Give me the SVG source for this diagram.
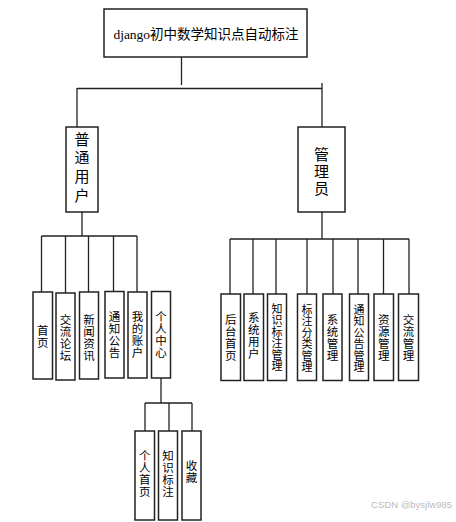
<svg xmlns="http://www.w3.org/2000/svg" width="456" height="522" viewBox="0 0 456 522">
<style>
.box{fill:#fff;stroke:#222;stroke-width:1.5}
.ln{fill:none;stroke:#222;stroke-width:1.3}
.t{font-family:"Liberation Serif","Noto Sans CJK SC",serif;fill:#000;text-anchor:middle;dominant-baseline:central}
.v{font-family:"Noto Sans CJK SC",sans-serif;font-size:11.5px;letter-spacing:0.5px;fill:#000;text-anchor:middle;writing-mode:vertical-rl}
.v6{font-family:"Noto Sans CJK SC",sans-serif;font-size:11px;letter-spacing:0.5px;fill:#000;text-anchor:middle;writing-mode:vertical-rl}
.vb{font-family:"Noto Sans CJK SC",sans-serif;font-size:15px;fill:#000;text-anchor:middle;writing-mode:vertical-rl}
</style>
<rect width="456" height="522" fill="#fff"/>
<g id="connectors">
<path class="ln" d="M181.5 57V85"/>
<path class="ln" d="M77 88.5H322M77 88V127M322 83V127"/>
<path class="ln" d="M82 212V236M41.5 236H137M41.5 236V292M65.5 236V293M88.5 236V292M113.5 236V292M137 236V292"/>
<path class="ln" d="M322 212V239M230 239H409M230 239V294M253 239V294M276 239V294M307 239V294M333 239V294M358 239V294M383.5 239V294M409 239V294"/>
<path class="ln" d="M161 378V403M145 403H192M145 403V431M169 403V431M192 403V431"/>
</g>
<g id="root"><rect class="box" x="104" y="9" width="203" height="48"/><text class="t" x="206" y="34" font-size="13.5">django初中数学知识点自动标注</text></g>
<g id="user"><rect class="box" x="66" y="127" width="32" height="85"/><text class="vb" x="82" y="169" letter-spacing="3.7px">普通用户</text></g>
<g id="admin"><rect class="box" x="298" y="127" width="47" height="85"/><text class="vb" x="321.5" y="172" letter-spacing="2px">管理员</text></g>
<g id="u1"><rect class="box" x="33" y="292" width="19.5" height="87"/><text class="v" x="42.7" y="336.5">首页</text></g>
<g id="u2"><rect class="box" x="56" y="293" width="19" height="87"/><text class="v" x="65.5" y="337.7">交流论坛</text></g>
<g id="u3"><rect class="box" x="79.5" y="292" width="19" height="87"/><text class="v" x="89" y="337.7">新闻资讯</text></g>
<g id="u4"><rect class="box" x="105" y="291.5" width="19" height="86.5"/><text class="v" x="114.5" y="335">通知公告</text></g>
<g id="u5"><rect class="box" x="128" y="292" width="19" height="86"/><text class="v" x="137.5" y="335">我的账户</text></g>
<g id="u6"><rect class="box" x="151.5" y="291.5" width="19" height="86.5"/><text class="v" x="161" y="335">个人中心</text></g>
<g id="a1"><rect class="box" x="221" y="294" width="19.5" height="86.5"/><text class="v" x="230.7" y="338">后台首页</text></g>
<g id="a2"><rect class="box" x="244" y="294" width="19.5" height="86.5"/><text class="v" x="253.7" y="336">系统用户</text></g>
<g id="a3"><rect class="box" x="267.5" y="294" width="19" height="86.5"/><text class="v6" x="277" y="337.7">知识标注管理</text></g>
<g id="a4"><rect class="box" x="297.5" y="294" width="19" height="86.5"/><text class="v6" x="307" y="338.7">标注分类管理</text></g>
<g id="a5"><rect class="box" x="323" y="294" width="19" height="86.5"/><text class="v" x="332.5" y="338">系统管理</text></g>
<g id="a6"><rect class="box" x="349.5" y="294" width="19" height="86.5"/><text class="v6" x="359" y="338.7">通知公告管理</text></g>
<g id="a7"><rect class="box" x="374" y="294" width="19.5" height="86.5"/><text class="v" x="383.7" y="338">资源管理</text></g>
<g id="a8"><rect class="box" x="398.5" y="294" width="20" height="86.5"/><text class="v" x="408.5" y="338">交流管理</text></g>
<g id="c1"><rect class="box" x="135" y="431" width="19.5" height="89"/><text class="v" x="144.7" y="474">个人首页</text></g>
<g id="c2"><rect class="box" x="158.5" y="431" width="19" height="89"/><text class="v" x="168" y="474">知识标注</text></g>
<g id="c3"><rect class="box" x="182" y="431" width="19" height="89"/><text class="v" x="191.5" y="472">收藏</text></g>
<text x="452" y="508" font-family="Liberation Sans,sans-serif" font-size="9.5" fill="#bbb" text-anchor="end">CSDN @bysjlw985</text>
</svg>
